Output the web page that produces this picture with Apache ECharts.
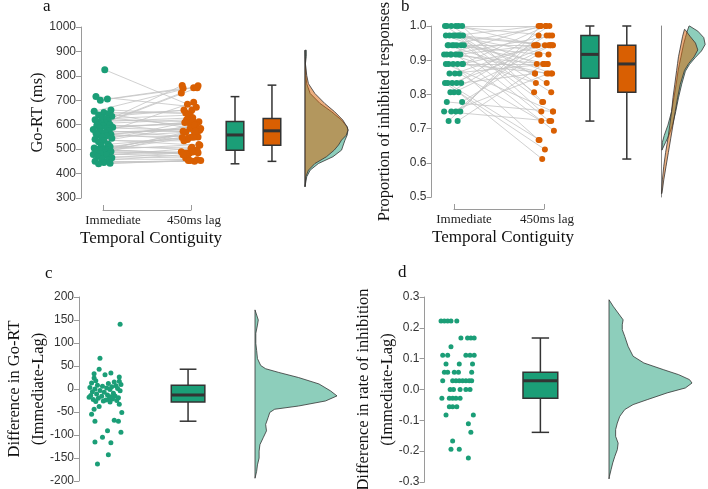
<!DOCTYPE html>
<html lang="en">
<head>
    <meta charset="utf-8">
    <title>Raincloud plots</title>
    <script src="https://cdn.jsdelivr.net/npm/echarts@6/dist/echarts.min.js"></script>
    <style>
        html, body { margin: 0; padding: 0; background: #fff; }
        #main { width: 708px; height: 489px; }
    </style>
</head>
<body>
    <div id="main"></div>
    <script>
    // ---- a: Go-RT (ms), paired per subject ----
    var goImm = [825,715,705,700,660,655,650,645,640,635,630,625,620,615,612,608,605,600,598,595,590,588,585,580,575,572,568,565,560,558,555,550,545,540,535,530,520,515,510,505,502,500,498,496,494,490,488,485,482,480,478,475,470,465,460,455,450,445,442,440];
    var goLag = [684,672,749,751,645,760,648,578,660,660,595,639,612,730,628,751,620,567,761,601,608,576,609,549,692,573,585,539,593,585,550,569,615,516,534,598,546,497,548,508,572,483,519,483,549,483,582,489,573,470,485,503,464,488,457,477,450,454,453,453];
    // jitter
    var jit1 = [0.02,-0.08,0.05,-0.03,0.09,-0.10,0.01,0.07,-0.05,0.10,-0.01,0.04,-0.09,0.06,-0.06,0.03,-0.02,0.08,-0.07,0.00,0.11,-0.04,0.05,-0.11,0.07,-0.03,0.02,-0.08,0.09,-0.06,0.04,-0.01,0.10,-0.09,0.01,-0.05,0.06,-0.02,0.08,-0.10,0.03,-0.07,0.00,0.05,-0.04,0.09,-0.08,0.02,-0.03,0.07,-0.11,0.04,-0.06,0.10,-0.01,0.06,-0.09,0.01,0.08,-0.05];
    var jit2 = [-0.04,0.06,-0.09,0.03,-0.01,0.08,-0.06,0.10,0.01,-0.08,0.05,-0.03,0.09,-0.11,0.02,0.07,-0.05,0.04,-0.10,0.06,-0.02,0.09,-0.07,0.00,0.03,-0.09,0.11,-0.04,0.05,-0.01,0.08,-0.06,0.02,0.10,-0.08,0.04,-0.03,0.07,-0.10,0.01,0.06,-0.05,0.09,-0.02,0.03,-0.07,0.10,-0.11,0.05,-0.04,0.08,0.00,-0.06,0.02,0.07,-0.09,0.04,-0.03,0.11,-0.01];
    var boxGo = [[440,495,558,613,715],[450,516,575,625,762]];
    var densGoY   = [905,880,850,802,768,728,687,653,619,591,578,557,537,517,496,469,441,414,387,346];
    var densGoImm = [0.03,0.03,0.01,0.02,0.04,0.12,0.35,0.62,0.85,0.98,1.0,0.98,0.93,0.89,0.85,0.65,0.31,0.12,0.04,0];
    var densGoLag = [0,0.005,0.01,0.04,0.08,0.23,0.46,0.69,0.88,0.98,1.0,0.96,0.85,0.78,0.68,0.5,0.23,0.08,0.02,0];

    // ---- b: proportion of inhibited responses ----
    var prImm = [1,1,1,1,1,1,
        0.972,0.972,0.972,0.972,0.972,0.972,0.972,0.972,
        0.944,0.944,0.944,0.944,0.944,0.944,0.944,
        0.917,0.917,0.917,0.917,0.917,0.917,0.917,
        0.889,0.889,0.889,0.889,0.889,0.889,
        0.861,0.861,0.861,
        0.833,0.833,0.833,0.833,0.833,
        0.806,0.806,0.806,
        0.778,0.778,
        0.75,0.75,0.75,0.75,
        0.722,0.722];
    var prLag = [1,0.972,0.944,0.833,0.778,0.806,
        1,0.944,0.944,0.889,0.917,0.75,0.861,0.806,
        1,0.944,0.917,0.889,0.861,0.722,0.778,
        0.972,0.944,0.889,0.861,0.833,0.694,1,
        0.944,0.889,0.861,0.667,1,0.75,
        0.944,0.889,0.722,
        0.944,0.861,0.639,1,0.667,
        0.944,0.611,0.972,
        0.917,0.75,
        0.944,0.861,1,0.722,
        0.889,0.972];
    var boxPr = [[0.722,0.847,0.917,0.972,1.0],[0.611,0.806,0.889,0.944,1.0]];
    var densPrImmY = [1.0,0.985,0.966,0.946,0.927,0.907,0.888,0.868,0.83,0.79,0.75,0.71,0.68,0.66,0.637];
    var densPrImmL = [0.61,0.57,0.53,0.49,0.46,0.43,0.40,0.37,0.33,0.28,0.23,0.15,0.07,0.03,0.02];
    var densPrImmR = [0.62,0.80,0.93,0.96,0.88,0.74,0.62,0.53,0.45,0.38,0.32,0.25,0.17,0.10,0.02];
    var densPrLagY = [0.99,0.97,0.95,0.93,0.91,0.89,0.87,0.83,0.79,0.75,0.71,0.67,0.63,0.59,0.55,0.51];
    var densPrLagL = [0.51,0.47,0.44,0.41,0.38,0.36,0.34,0.30,0.26,0.23,0.19,0.15,0.10,0.06,0.03,0.01];
    var densPrLagR = [0.52,0.63,0.75,0.80,0.72,0.60,0.51,0.42,0.36,0.31,0.26,0.21,0.16,0.11,0.06,0.02];

    // ---- c: difference in Go-RT ----
    var diffRT = [141,67,43,35,33,31,26,24,18,17,15,13,12,10,8,7,6,5,3,2,1,0,-1,-3,-4,-6,-7,-9,-11,-13,-14,-15,-16,-17,-18,-19,-20,-21,-22,-23,-24,-25,-26,-27,-28,-33,-38,-44,-51,-55,-68,-70,-70,-91,-94,-105,-115,-117,-143,-163];
    var jitRT = [0.19,-0.05,-0.06,0.08,-0.12,0.01,0.18,-0.12,-0.1,0.18,
        0.12,-0.15,0.05,0.2,-0.08,0.14,-0.02,0.09,-0.17,0.03,0.16,-0.11,0.07,-0.05,0.19,-0.14,0.0,0.11,-0.09,0.04,-0.16,0.13,-0.03,0.08,-0.18,0.17,-0.07,0.06,0.1,-0.13,0.02,0.15,-0.01,-0.1,0.07,0.18,-0.06,-0.12,
        0.21,-0.15,0.12,-0.11,0.17,0.04,0.2,-0.02,-0.11,0.08,0.05,-0.08];
    var boxRT = [[-70,-28,-13,8,43]];
    var densRTY = [172,150,139,121,99,84,66,51,44,36,25,11,-4,-15,-26,-37,-44,-51,-62,-77,-91,-106,-121,-135,-150,-165,-179,-194];
    var densRT  = [0,0.04,0.03,0.01,0.01,0.02,0.03,0.07,0.13,0.29,0.53,0.78,0.92,1.0,0.86,0.53,0.24,0.18,0.16,0.13,0.14,0.10,0.06,0.05,0.05,0.03,0.02,0];

    // ---- d: difference in rate of inhibition ----
    var diffPr = [0.222,0.222,0.222,0.222,0.222,0.167,0.167,0.167,0.167,0.139,0.111,0.111,0.111,0.111,0.111,0.083,0.083,0.083,
        0.056,0.056,0.056,0.056,0.056,0.028,0.028,0.028,0.028,0.028,0.028,0.028,0.028,0,0,0,0,0,
        -0.028,-0.028,-0.028,-0.028,-0.028,-0.056,-0.056,-0.056,-0.083,-0.083,-0.111,-0.139,-0.167,-0.194,-0.194,-0.222];
    var jitPr = [-0.2,-0.16,-0.12,-0.08,-0.01,0.04,0.12,0.16,0.2,-0.08,-0.18,-0.12,0.1,0.15,0.2,-0.14,0.02,0.18,
        -0.16,-0.12,-0.04,0.01,0.17,-0.18,-0.06,-0.02,0.02,0.06,0.1,0.14,0.17,-0.09,-0.05,0.03,0.1,0.15,
        -0.19,-0.1,-0.06,-0.02,0.03,-0.1,-0.06,-0.01,-0.14,0.19,0.13,0.16,-0.06,-0.08,0.02,0.13];
    var boxPrDiff = [[-0.139,-0.028,0.028,0.056,0.167]];
    var densPrDY = [0.291,0.27,0.248,0.226,0.21,0.194,0.172,0.14,0.108,0.086,0.064,0.048,0.032,0.021,0.005,-0.011,-0.033,-0.049,-0.065,-0.087,-0.109,-0.13,-0.152,-0.174,-0.195,-0.217,-0.238,-0.26,-0.282,-0.29];
    var densPrD  = [0,0.05,0.11,0.17,0.16,0.16,0.19,0.23,0.29,0.42,0.66,0.84,0.97,1.0,0.92,0.70,0.46,0.29,0.19,0.13,0.10,0.08,0.08,0.11,0.10,0.07,0.045,0.025,0.005,0];

    var GREEN = '#1b9e77', ORANGE = '#d95f02';
    var GREEN_A = 'rgba(27,158,119,0.5)', ORANGE_A = 'rgba(217,95,2,0.5)';
    var AXIS_GREY = '#9a9a9a';
    var SERIF = 'Liberation Serif', SANS = 'Liberation Sans';

    function pts(xs, jit, ys) {
        var out = [];
        for (var i = 0; i < ys.length; i++) out.push([xs + jit[i], ys[i]]);
        return out;
    }
    function pairLines(a, b) {
        var out = [];
        for (var i = 0; i < a.length; i++) out.push({coords: [a[i], b[i]]});
        return out;
    }

    // box + whiskers, width given in x-axis units
    function boxRender(colors, bw) {
        return function (params, api) {
            var x = api.value(0);
            var p = [];
            for (var k = 1; k <= 5; k++) p.push(api.coord([x, api.value(k)]));
            var half = api.size([bw, 0])[0] / 2;
            var cx = p[0][0];
            var ln = {stroke: '#333', lineWidth: 1.5};
            return {type: 'group', children: [
                {type: 'line', shape: {x1: cx, y1: p[4][1], x2: cx, y2: p[3][1]}, style: ln},
                {type: 'line', shape: {x1: cx, y1: p[1][1], x2: cx, y2: p[0][1]}, style: ln},
                {type: 'line', shape: {x1: cx - half / 2, y1: p[4][1], x2: cx + half / 2, y2: p[4][1]}, style: ln},
                {type: 'line', shape: {x1: cx - half / 2, y1: p[0][1], x2: cx + half / 2, y2: p[0][1]}, style: ln},
                {type: 'rect', shape: {x: cx - half, y: p[3][1], width: half * 2, height: p[1][1] - p[3][1]},
                    style: {fill: colors[params.dataIndex], stroke: '#333', lineWidth: 1.5}},
                {type: 'line', shape: {x1: cx - half, y1: p[2][1], x2: cx + half, y2: p[2][1]},
                    style: {stroke: '#333', lineWidth: 3}}
            ]};
        };
    }
    function boxData(stats, xs) {
        return stats.map(function (s, i) { return [xs[i]].concat(s); });
    }

    // half violin from a zero baseline
    function halfViolin(ys, ds, fill) {
        return function (params, api) {
            var p = [api.coord([0, ys[0]])];
            for (var i = 0; i < ys.length; i++) p.push(api.coord([ds[i], ys[i]]));
            p.push(api.coord([0, ys[ys.length - 1]]));
            return {type: 'polygon', shape: {points: p}, style: {fill: fill, stroke: '#333', lineWidth: 0.8}};
        };
    }
    // slanted density shape with its own left and right edge
    function blade(ys, ls, rs, fill) {
        return function (params, api) {
            var p = [];
            for (var i = 0; i < ys.length; i++) p.push(api.coord([rs[i], ys[i]]));
            for (var j = ys.length - 1; j >= 0; j--) p.push(api.coord([ls[j], ys[j]]));
            return {type: 'polygon', shape: {points: p}, style: {fill: fill, stroke: '#333', lineWidth: 0.8}};
        };
    }

    function grid(l, t, w, h) {
        return {left: l, top: t, width: w, height: h, containLabel: false, outerBoundsMode: 'none'};
    }
    function hiddenX(i, min, max) {
        return {type: 'value', gridIndex: i, min: min, max: max, show: false};
    }
    function hiddenY(i, min, max) {
        return {type: 'value', gridIndex: i, min: min, max: max, show: false};
    }
    function valueY(i, min, max, step, name, gap, fmt) {
        return {
            type: 'value', gridIndex: i, min: min, max: max, interval: step,
            axisLine: {show: true, onZero: false, lineStyle: {color: AXIS_GREY, width: 1}},
            axisTick: {show: true, length: 5, lineStyle: {color: AXIS_GREY}},
            axisLabel: {color: '#333', fontSize: 12, fontFamily: SANS, margin: 5, formatter: fmt},
            splitLine: {show: false},
            name: name, nameLocation: 'middle', nameGap: gap, nameMoveOverlap: false,
            nameTextStyle: {fontFamily: SERIF, fontSize: 16.5, color: '#111', lineHeight: 24}
        };
    }
    function bracketX(i) {
        return {
            type: 'value', gridIndex: i, min: 1, max: 2, interval: 1,
            axisLine: {show: true, onZero: false, lineStyle: {color: AXIS_GREY}},
            axisTick: {show: true, inside: true, length: 5, lineStyle: {color: AXIS_GREY}},
            axisLabel: {
                margin: 4, color: '#222', fontFamily: SERIF, fontSize: 13,
                formatter: function (v) { return v === 1 ? '{i|Immediate}' : '{l|450ms lag}'; },
                rich: {i: {padding: [0, 0, 0, 20], fontFamily: SERIF, fontSize: 13, color: '#222'},
                       l: {padding: [0, 0, 0, 6], fontFamily: SERIF, fontSize: 13, color: '#222'}}
            },
            splitLine: {show: false},
            name: 'Temporal Contiguity', nameLocation: 'middle', nameGap: 20, nameMoveOverlap: false,
            nameTextStyle: {fontFamily: SERIF, fontSize: 17, color: '#111', padding: [0, 0, 0, 8]}
        };
    }
    function plain(v) { return String(v); }
    function fixed1(v) { return v.toFixed(1); }

    var imA = pts(1, jit1, goImm), lgA = pts(2, jit2, goLag);
    var imB = pts(1, jit1, prImm), lgB = pts(2, jit2, prLag);
    var letter = {fontFamily: SERIF, fontSize: 17, fontWeight: 'normal', color: '#111'};

    var option = {
        animation: false,
        backgroundColor: '#fff',
        title: [
            {text: 'a', left: 43, top: -2, padding: 0, textStyle: letter},
            {text: 'b', left: 401, top: -2, padding: 0, textStyle: letter},
            {text: 'c', left: 45, top: 265, padding: 0, textStyle: letter},
            {text: 'd', left: 398, top: 264, padding: 0, textStyle: letter}
        ],
        grid: [
            grid(81, 27, 220, 171),    // a points + boxes
            grid(103, 27, 88, 183),    // a bracket axis
            grid(305, 27, 43, 171),    // a densities
            grid(431.5, 26, 225, 171), // b points + boxes
            grid(454, 26, 90, 183),    // b bracket axis
            grid(661, 26, 46, 171),    // b densities
            grid(79, 297, 151, 184),   // c
            grid(255, 297, 82, 184),
            grid(424.5, 297, 149, 185),// d
            grid(609, 297, 83, 185)
        ],
        xAxis: [
            hiddenX(0, 0.75, 3.25), bracketX(1), hiddenX(2, 0, 1),
            hiddenX(3, 0.75, 3.25), bracketX(4), hiddenX(5, 0, 1),
            hiddenX(6, 0.7, 2.5), hiddenX(7, 0, 1),
            hiddenX(8, 0.6, 2.4), hiddenX(9, 0, 1)
        ],
        yAxis: [
            valueY(0, 300, 1000, 100, 'Go-RT (ms)', 31, plain),
            hiddenY(1, 0, 1),
            hiddenY(2, 300, 1000),
            valueY(3, 0.5, 1.0, 0.1, 'Proportion of inhibited responses', 35, fixed1),
            hiddenY(4, 0, 1),
            {type: 'value', gridIndex: 5, min: 0.5, max: 1.0,
                axisLine: {show: true, onZero: false, lineStyle: {color: '#888'}},
                axisTick: {show: false}, axisLabel: {show: false}, splitLine: {show: false}},
            valueY(6, -200, 200, 50, 'Difference in Go-RT\n(Immediate-Lag)', 28, plain),
            hiddenY(7, -200, 200),
            valueY(8, -0.3, 0.3, 0.1, 'Difference in rate of inhibition\n(Immediate-Lag)', 25, fixed1),
            hiddenY(9, -0.3, 0.3)
        ],
        series: [
            // a
            {type: 'lines', coordinateSystem: 'cartesian2d', xAxisIndex: 0, yAxisIndex: 0, silent: true,
                lineStyle: {color: '#c4c4c4', width: 0.8, opacity: 1}, data: pairLines(imA, lgA)},
            {type: 'scatter', xAxisIndex: 0, yAxisIndex: 0, symbolSize: 7, silent: true,
                itemStyle: {color: GREEN, opacity: 1}, data: imA},
            {type: 'scatter', xAxisIndex: 0, yAxisIndex: 0, symbolSize: 7, silent: true,
                itemStyle: {color: ORANGE, opacity: 1}, data: lgA},
            {type: 'custom', xAxisIndex: 0, yAxisIndex: 0, silent: true,
                renderItem: boxRender([GREEN, ORANGE], 0.2), data: boxData(boxGo, [2.5, 2.92])},
            {type: 'custom', xAxisIndex: 2, yAxisIndex: 2, silent: true,
                renderItem: halfViolin(densGoY, densGoImm, GREEN_A), data: [[0, 600]]},
            {type: 'custom', xAxisIndex: 2, yAxisIndex: 2, silent: true,
                renderItem: halfViolin(densGoY, densGoLag, ORANGE_A), data: [[0, 600]]},
            // b
            {type: 'lines', coordinateSystem: 'cartesian2d', xAxisIndex: 3, yAxisIndex: 3, silent: true,
                lineStyle: {color: '#c4c4c4', width: 0.8, opacity: 1}, data: pairLines(imB, lgB)},
            {type: 'scatter', xAxisIndex: 3, yAxisIndex: 3, symbolSize: 6, silent: true,
                itemStyle: {color: GREEN, opacity: 1}, data: imB},
            {type: 'scatter', xAxisIndex: 3, yAxisIndex: 3, symbolSize: 6, silent: true,
                itemStyle: {color: ORANGE, opacity: 1}, data: lgB},
            {type: 'custom', xAxisIndex: 3, yAxisIndex: 3, silent: true,
                renderItem: boxRender([GREEN, ORANGE], 0.2), data: boxData(boxPr, [2.51, 2.92])},
            {type: 'custom', xAxisIndex: 5, yAxisIndex: 5, silent: true,
                renderItem: blade(densPrImmY, densPrImmL, densPrImmR, GREEN_A), data: [[0, 0.8]]},
            {type: 'custom', xAxisIndex: 5, yAxisIndex: 5, silent: true,
                renderItem: blade(densPrLagY, densPrLagL, densPrLagR, ORANGE_A), data: [[0, 0.8]]},
            // c
            {type: 'scatter', xAxisIndex: 6, yAxisIndex: 6, symbolSize: 5, silent: true,
                itemStyle: {color: GREEN, opacity: 1}, data: pts(1, jitRT, diffRT)},
            {type: 'custom', xAxisIndex: 6, yAxisIndex: 6, silent: true,
                renderItem: boxRender([GREEN], 0.4), data: boxData(boxRT, [2])},
            {type: 'custom', xAxisIndex: 7, yAxisIndex: 7, silent: true,
                renderItem: halfViolin(densRTY, densRT, GREEN_A), data: [[0, 0]]},
            // d
            {type: 'scatter', xAxisIndex: 8, yAxisIndex: 8, symbolSize: 5, silent: true,
                itemStyle: {color: GREEN, opacity: 1}, data: pts(1, jitPr, diffPr)},
            {type: 'custom', xAxisIndex: 8, yAxisIndex: 8, silent: true,
                renderItem: boxRender([GREEN], 0.42), data: boxData(boxPrDiff, [2])},
            {type: 'custom', xAxisIndex: 9, yAxisIndex: 9, silent: true,
                renderItem: halfViolin(densPrDY, densPrD, GREEN_A), data: [[0, 0]]}
        ]
    };

    var myChart = echarts.init(document.getElementById('main'), null, {renderer: 'canvas'});
    myChart.setOption(option);
    </script>
</body>
</html>
